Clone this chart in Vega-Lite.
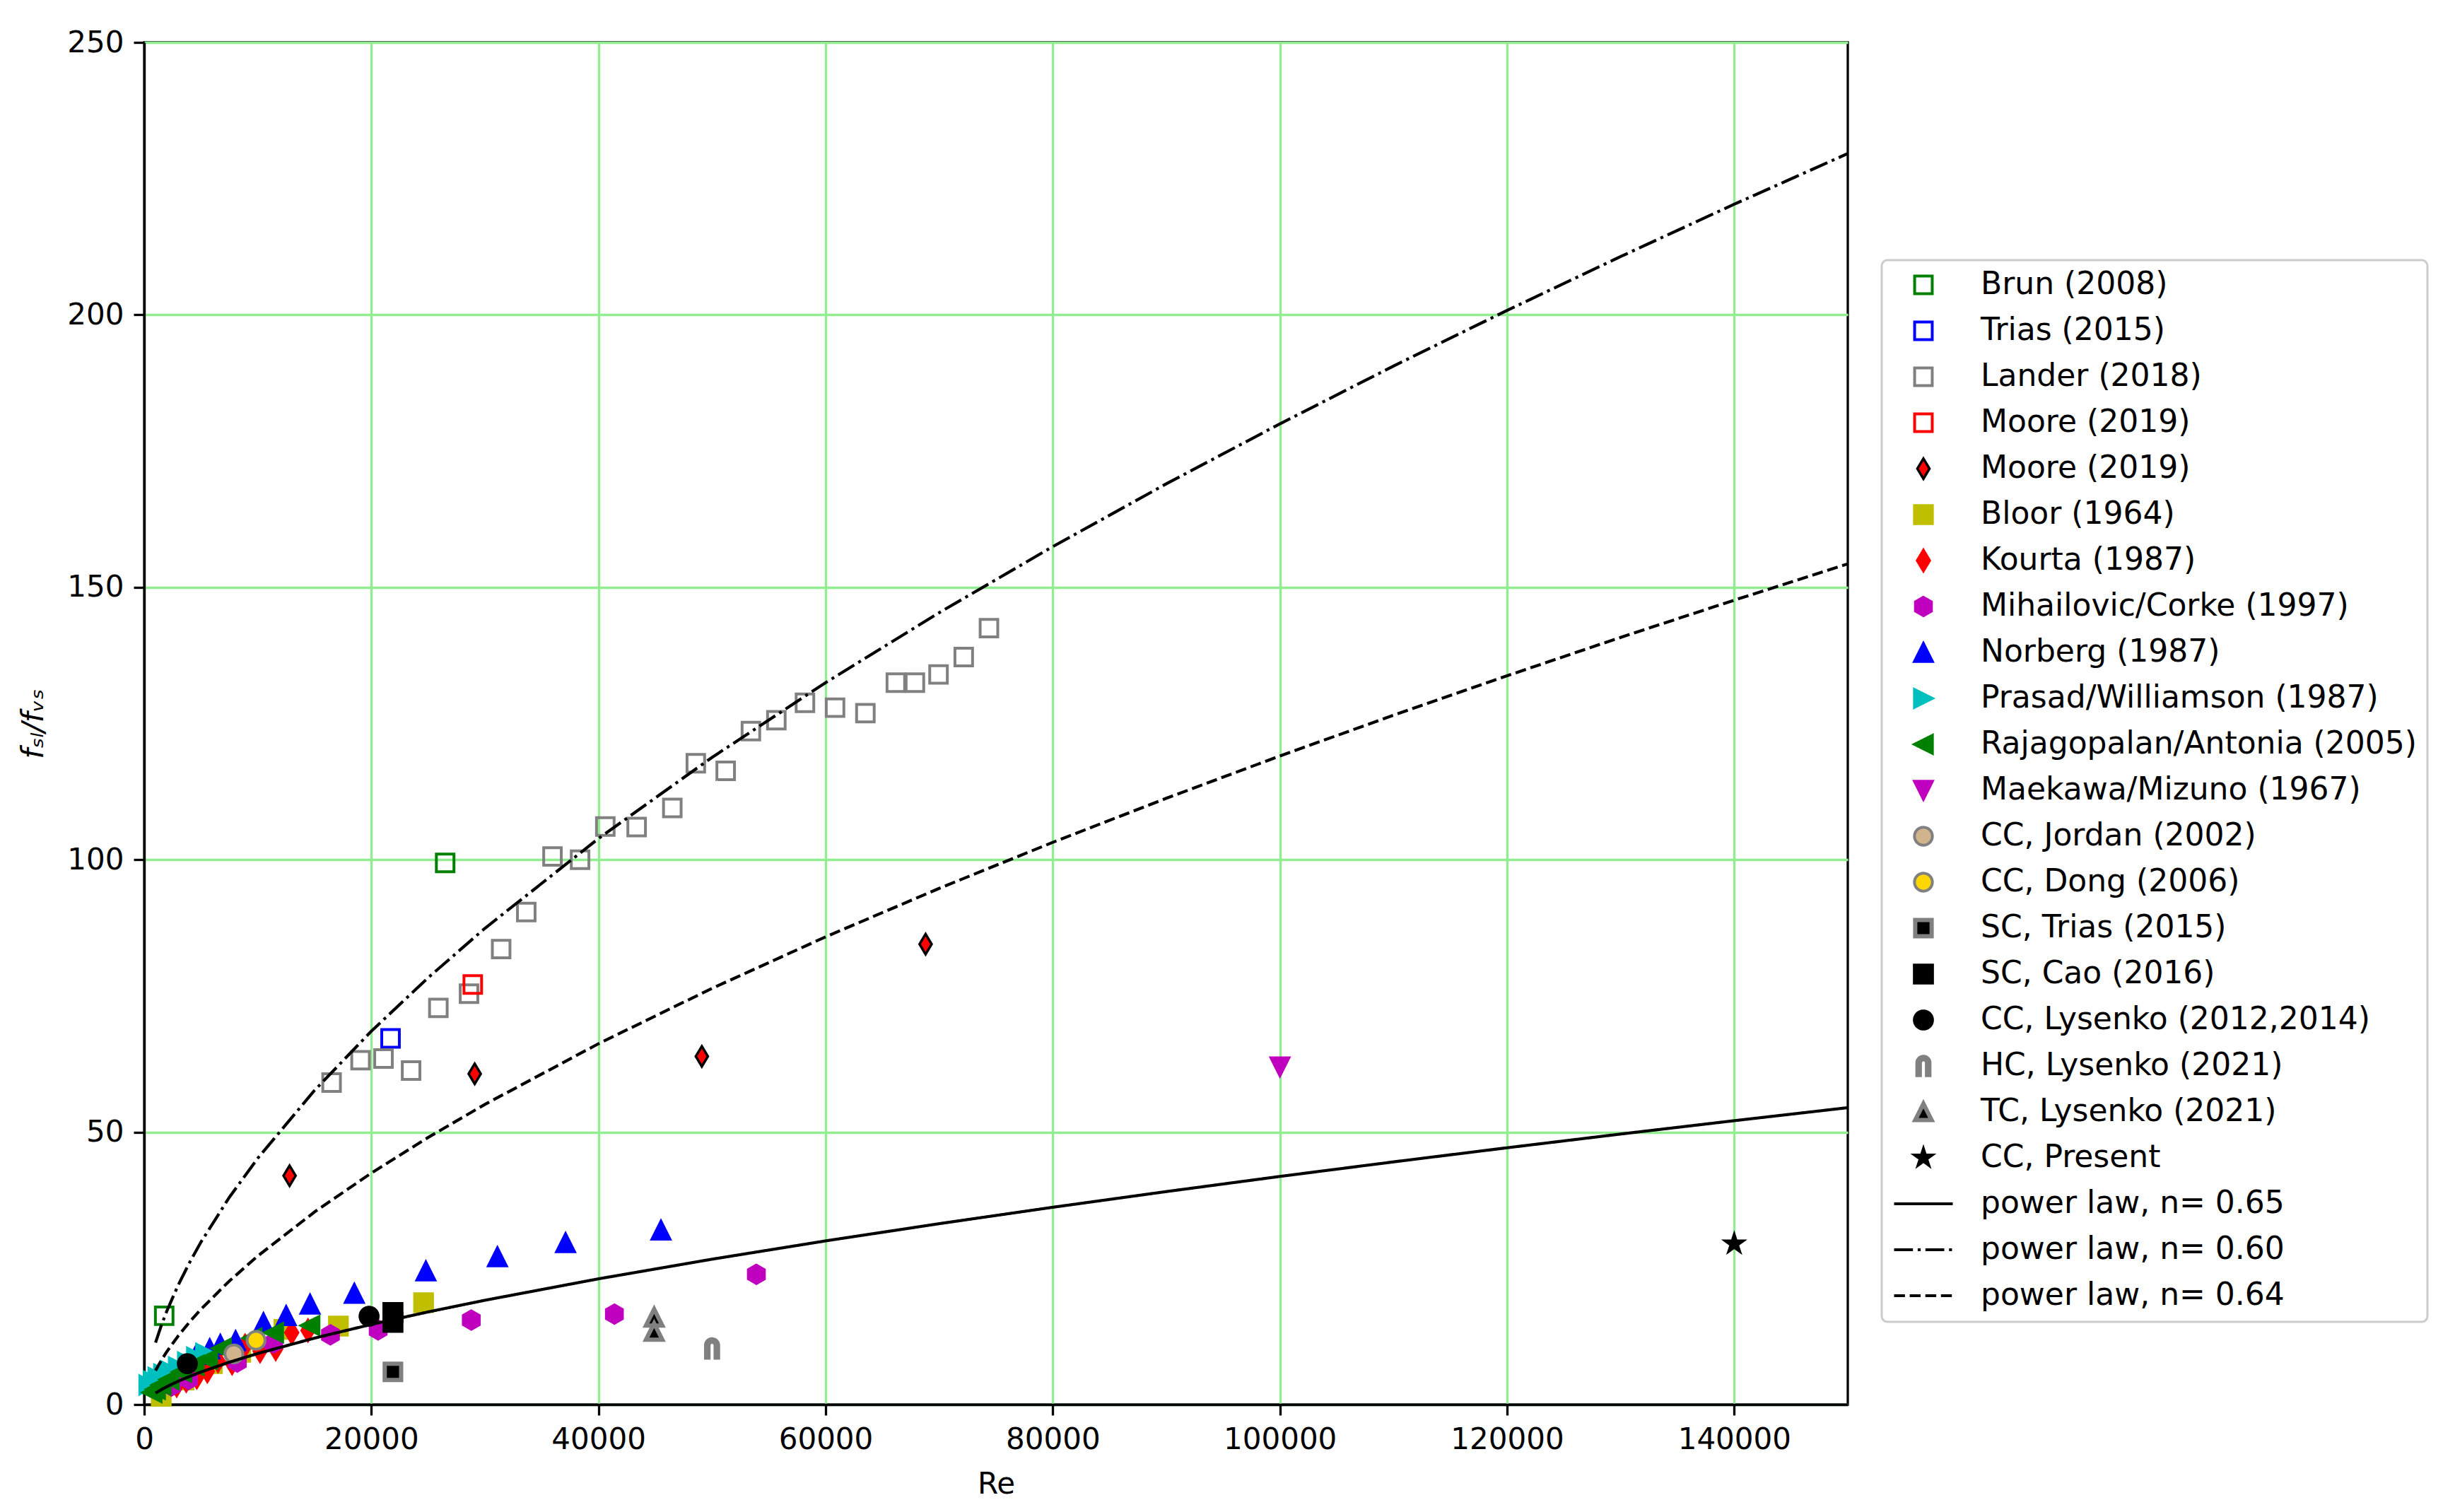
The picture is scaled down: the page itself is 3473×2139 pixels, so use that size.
{
  "$schema": "https://vega.github.io/schema/vega-lite/v6.json",
  "width": 2410,
  "height": 1927,
  "autosize": {"type": "none"},
  "padding": {"left": 204, "top": 60, "right": 859, "bottom": 152},
  "background": "white",
  "config": {
    "view": {"stroke": "black", "strokeWidth": 3.3},
    "axis": {
      "domainColor": "black", "domainWidth": 3.3,
      "tickColor": "black", "tickWidth": 3.3, "tickSize": 15,
      "labelFont": "DejaVu Sans", "labelFontSize": 42, "labelColor": "black", "labelPadding": 14,
      "titleFont": "DejaVu Sans", "titleFontSize": 42, "titleFontWeight": "normal", "titleColor": "black",
      "gridColor": "#90ee90", "gridWidth": 3.3, "gridOpacity": 1,
      "labelFlush": false, "labelOverlap": false
    },
    "legend": {
      "padding": 15, "strokeColor": "#cccccc", "strokeWidth": 3, "fillColor": "white", "cornerRadius": 8,
      "labelFont": "DejaVu Sans", "labelFontSize": 44, "labelColor": "black", "labelLimit": 0,
      "rowPadding": 21, "clipHeight": 40, "labelOffset": 37, "symbolLimit": 0, "symbolOpacity": 1
    }
  },
  "datasets": {
    "pts": [
      {"series": "Brun (2008)", "Re": 1760, "f": 16.3},
      {"series": "Brun (2008)", "Re": 26500, "f": 99.4},
      {"series": "Trias (2015)", "Re": 21690, "f": 67.2},
      {"series": "Lander (2018)", "Re": 16500, "f": 59.1},
      {"series": "Lander (2018)", "Re": 19050, "f": 63.2},
      {"series": "Lander (2018)", "Re": 21070, "f": 63.5},
      {"series": "Lander (2018)", "Re": 23500, "f": 61.3},
      {"series": "Lander (2018)", "Re": 25900, "f": 72.8},
      {"series": "Lander (2018)", "Re": 28600, "f": 75.4},
      {"series": "Lander (2018)", "Re": 31430, "f": 83.6},
      {"series": "Lander (2018)", "Re": 33640, "f": 90.4},
      {"series": "Lander (2018)", "Re": 35950, "f": 100.6},
      {"series": "Lander (2018)", "Re": 38380, "f": 100.0},
      {"series": "Lander (2018)", "Re": 40600, "f": 106.1},
      {"series": "Lander (2018)", "Re": 43360, "f": 106.0},
      {"series": "Lander (2018)", "Re": 46500, "f": 109.5},
      {"series": "Lander (2018)", "Re": 48570, "f": 117.7},
      {"series": "Lander (2018)", "Re": 51200, "f": 116.3},
      {"series": "Lander (2018)", "Re": 53420, "f": 123.6},
      {"series": "Lander (2018)", "Re": 55660, "f": 125.6},
      {"series": "Lander (2018)", "Re": 58180, "f": 128.8},
      {"series": "Lander (2018)", "Re": 60830, "f": 127.9},
      {"series": "Lander (2018)", "Re": 63500, "f": 126.9},
      {"series": "Lander (2018)", "Re": 66180, "f": 132.5},
      {"series": "Lander (2018)", "Re": 67860, "f": 132.5},
      {"series": "Lander (2018)", "Re": 69940, "f": 134.0},
      {"series": "Lander (2018)", "Re": 72160, "f": 137.2},
      {"series": "Lander (2018)", "Re": 74380, "f": 142.5},
      {"series": "Moore (2019)|sq", "Re": 28930, "f": 77.1},
      {"series": "Moore (2019)|d", "Re": 12800, "f": 42.0},
      {"series": "Moore (2019)|d", "Re": 29100, "f": 60.7},
      {"series": "Moore (2019)|d", "Re": 49100, "f": 63.9},
      {"series": "Moore (2019)|d", "Re": 68800, "f": 84.5},
      {"series": "Bloor (1964)", "Re": 1500, "f": 1.5},
      {"series": "Bloor (1964)", "Re": 3500, "f": 4.5},
      {"series": "Bloor (1964)", "Re": 6000, "f": 7.5},
      {"series": "Bloor (1964)", "Re": 8500, "f": 9.6},
      {"series": "Bloor (1964)", "Re": 12300, "f": 13.8},
      {"series": "Bloor (1964)", "Re": 17100, "f": 14.4},
      {"series": "Bloor (1964)", "Re": 24600, "f": 18.7},
      {"series": "Kourta (1987)", "Re": 2860, "f": 3.5},
      {"series": "Kourta (1987)", "Re": 3700, "f": 4.4},
      {"series": "Kourta (1987)", "Re": 4630, "f": 5.0},
      {"series": "Kourta (1987)", "Re": 5560, "f": 6.1},
      {"series": "Kourta (1987)", "Re": 6490, "f": 8.0},
      {"series": "Kourta (1987)", "Re": 7740, "f": 7.6},
      {"series": "Kourta (1987)", "Re": 8880, "f": 10.8},
      {"series": "Kourta (1987)", "Re": 10200, "f": 9.8},
      {"series": "Kourta (1987)", "Re": 11580, "f": 10.2},
      {"series": "Kourta (1987)", "Re": 12990, "f": 13.2},
      {"series": "Kourta (1987)", "Re": 14420, "f": 13.6},
      {"series": "Mihailovic/Corke (1997)", "Re": 2400, "f": 3.4},
      {"series": "Mihailovic/Corke (1997)", "Re": 3900, "f": 4.6},
      {"series": "Mihailovic/Corke (1997)", "Re": 8200, "f": 7.8},
      {"series": "Mihailovic/Corke (1997)", "Re": 11400, "f": 11.3},
      {"series": "Mihailovic/Corke (1997)", "Re": 16400, "f": 12.8},
      {"series": "Mihailovic/Corke (1997)", "Re": 20600, "f": 13.7},
      {"series": "Mihailovic/Corke (1997)", "Re": 28800, "f": 15.5},
      {"series": "Mihailovic/Corke (1997)", "Re": 41400, "f": 16.6},
      {"series": "Mihailovic/Corke (1997)", "Re": 53900, "f": 23.9},
      {"series": "Norberg (1987)", "Re": 4600, "f": 9.2},
      {"series": "Norberg (1987)", "Re": 5770, "f": 10.2},
      {"series": "Norberg (1987)", "Re": 6700, "f": 11.0},
      {"series": "Norberg (1987)", "Re": 8050, "f": 11.7},
      {"series": "Norberg (1987)", "Re": 10500, "f": 15.0},
      {"series": "Norberg (1987)", "Re": 12500, "f": 16.3},
      {"series": "Norberg (1987)", "Re": 14600, "f": 18.4},
      {"series": "Norberg (1987)", "Re": 18500, "f": 20.4},
      {"series": "Norberg (1987)", "Re": 24800, "f": 24.5},
      {"series": "Norberg (1987)", "Re": 31100, "f": 27.1},
      {"series": "Norberg (1987)", "Re": 37100, "f": 29.7},
      {"series": "Norberg (1987)", "Re": 45500, "f": 32.0},
      {"series": "Prasad/Williamson (1987)", "Re": 400, "f": 3.6},
      {"series": "Prasad/Williamson (1987)", "Re": 800, "f": 4.3},
      {"series": "Prasad/Williamson (1987)", "Re": 1200, "f": 5.0},
      {"series": "Prasad/Williamson (1987)", "Re": 1700, "f": 5.6},
      {"series": "Prasad/Williamson (1987)", "Re": 2300, "f": 6.2},
      {"series": "Prasad/Williamson (1987)", "Re": 3000, "f": 6.9},
      {"series": "Prasad/Williamson (1987)", "Re": 3800, "f": 7.8},
      {"series": "Prasad/Williamson (1987)", "Re": 4600, "f": 8.7},
      {"series": "Prasad/Williamson (1987)", "Re": 5400, "f": 9.4},
      {"series": "Rajagopalan/Antonia (2005)", "Re": 700, "f": 2.2},
      {"series": "Rajagopalan/Antonia (2005)", "Re": 1000, "f": 2.8},
      {"series": "Rajagopalan/Antonia (2005)", "Re": 1500, "f": 3.6},
      {"series": "Rajagopalan/Antonia (2005)", "Re": 2200, "f": 4.6},
      {"series": "Rajagopalan/Antonia (2005)", "Re": 3300, "f": 6.0},
      {"series": "Rajagopalan/Antonia (2005)", "Re": 4400, "f": 7.2},
      {"series": "Rajagopalan/Antonia (2005)", "Re": 5600, "f": 8.3},
      {"series": "Rajagopalan/Antonia (2005)", "Re": 6800, "f": 10.3},
      {"series": "Rajagopalan/Antonia (2005)", "Re": 9500, "f": 12.2},
      {"series": "Rajagopalan/Antonia (2005)", "Re": 11400, "f": 13.2},
      {"series": "Rajagopalan/Antonia (2005)", "Re": 14600, "f": 14.5},
      {"series": "Maekawa/Mizuno (1967)", "Re": 100000, "f": 62.0},
      {"series": "CC, Jordan (2002)", "Re": 7900, "f": 9.3},
      {"series": "CC, Dong (2006)", "Re": 9850, "f": 11.8},
      {"series": "SC, Trias (2015)", "Re": 21900, "f": 6.0},
      {"series": "SC, Cao (2016)", "Re": 21900, "f": 16.9},
      {"series": "SC, Cao (2016)", "Re": 21900, "f": 15.1},
      {"series": "CC, Lysenko (2012,2014)", "Re": 3800, "f": 7.5},
      {"series": "CC, Lysenko (2012,2014)", "Re": 19800, "f": 16.2},
      {"series": "HC, Lysenko (2021)", "Re": 50000, "f": 10.3},
      {"series": "TC, Lysenko (2021)", "Re": 44900, "f": 16.0},
      {"series": "TC, Lysenko (2021)", "Re": 44900, "f": 13.4},
      {"series": "CC, Present", "Re": 140000, "f": 29.5}
    ],
    "lines": [
      {"series": "power law, n= 0.65", "Re": 1000, "f": 2.098},
      {"series": "power law, n= 0.65", "Re": 1500, "f": 2.731},
      {"series": "power law, n= 0.65", "Re": 2000, "f": 3.292},
      {"series": "power law, n= 0.65", "Re": 3000, "f": 4.286},
      {"series": "power law, n= 0.65", "Re": 4000, "f": 5.166},
      {"series": "power law, n= 0.65", "Re": 5000, "f": 5.973},
      {"series": "power law, n= 0.65", "Re": 7500, "f": 7.775},
      {"series": "power law, n= 0.65", "Re": 10000, "f": 9.372},
      {"series": "power law, n= 0.65", "Re": 15000, "f": 12.199},
      {"series": "power law, n= 0.65", "Re": 20000, "f": 14.708},
      {"series": "power law, n= 0.65", "Re": 25000, "f": 17.003},
      {"series": "power law, n= 0.65", "Re": 30000, "f": 19.143},
      {"series": "power law, n= 0.65", "Re": 40000, "f": 23.077},
      {"series": "power law, n= 0.65", "Re": 50000, "f": 26.68},
      {"series": "power law, n= 0.65", "Re": 60000, "f": 30.04},
      {"series": "power law, n= 0.65", "Re": 70000, "f": 33.2},
      {"series": "power law, n= 0.65", "Re": 80000, "f": 36.21},
      {"series": "power law, n= 0.65", "Re": 90000, "f": 39.09},
      {"series": "power law, n= 0.65", "Re": 100000, "f": 41.87},
      {"series": "power law, n= 0.65", "Re": 110000, "f": 44.54},
      {"series": "power law, n= 0.65", "Re": 120000, "f": 47.13},
      {"series": "power law, n= 0.65", "Re": 130000, "f": 49.65},
      {"series": "power law, n= 0.65", "Re": 140000, "f": 52.1},
      {"series": "power law, n= 0.65", "Re": 150000, "f": 54.49},
      {"series": "power law, n= 0.60", "Re": 1000, "f": 11.36},
      {"series": "power law, n= 0.60", "Re": 1500, "f": 14.49},
      {"series": "power law, n= 0.60", "Re": 2000, "f": 17.21},
      {"series": "power law, n= 0.60", "Re": 3000, "f": 21.95},
      {"series": "power law, n= 0.60", "Re": 4000, "f": 26.09},
      {"series": "power law, n= 0.60", "Re": 5000, "f": 29.83},
      {"series": "power law, n= 0.60", "Re": 7500, "f": 38.05},
      {"series": "power law, n= 0.60", "Re": 10000, "f": 45.21},
      {"series": "power law, n= 0.60", "Re": 15000, "f": 57.67},
      {"series": "power law, n= 0.60", "Re": 20000, "f": 68.53},
      {"series": "power law, n= 0.60", "Re": 25000, "f": 78.34},
      {"series": "power law, n= 0.60", "Re": 30000, "f": 87.41},
      {"series": "power law, n= 0.60", "Re": 40000, "f": 103.89},
      {"series": "power law, n= 0.60", "Re": 50000, "f": 118.78},
      {"series": "power law, n= 0.60", "Re": 60000, "f": 132.5},
      {"series": "power law, n= 0.60", "Re": 70000, "f": 145.34},
      {"series": "power law, n= 0.60", "Re": 80000, "f": 157.46},
      {"series": "power law, n= 0.60", "Re": 90000, "f": 168.99},
      {"series": "power law, n= 0.60", "Re": 100000, "f": 180.0},
      {"series": "power law, n= 0.60", "Re": 110000, "f": 190.6},
      {"series": "power law, n= 0.60", "Re": 120000, "f": 200.81},
      {"series": "power law, n= 0.60", "Re": 130000, "f": 210.7},
      {"series": "power law, n= 0.60", "Re": 140000, "f": 220.3},
      {"series": "power law, n= 0.60", "Re": 150000, "f": 229.6},
      {"series": "power law, n= 0.64", "Re": 1000, "f": 6.247},
      {"series": "power law, n= 0.64", "Re": 1500, "f": 8.097},
      {"series": "power law, n= 0.64", "Re": 2000, "f": 9.735},
      {"series": "power law, n= 0.64", "Re": 3000, "f": 12.62},
      {"series": "power law, n= 0.64", "Re": 4000, "f": 15.17},
      {"series": "power law, n= 0.64", "Re": 5000, "f": 17.5},
      {"series": "power law, n= 0.64", "Re": 7500, "f": 22.68},
      {"series": "power law, n= 0.64", "Re": 10000, "f": 27.27},
      {"series": "power law, n= 0.64", "Re": 15000, "f": 35.35},
      {"series": "power law, n= 0.64", "Re": 20000, "f": 42.49},
      {"series": "power law, n= 0.64", "Re": 25000, "f": 49.02},
      {"series": "power law, n= 0.64", "Re": 30000, "f": 55.09},
      {"series": "power law, n= 0.64", "Re": 40000, "f": 66.23},
      {"series": "power law, n= 0.64", "Re": 50000, "f": 76.39},
      {"series": "power law, n= 0.64", "Re": 60000, "f": 85.84},
      {"series": "power law, n= 0.64", "Re": 70000, "f": 94.74},
      {"series": "power law, n= 0.64", "Re": 80000, "f": 103.19},
      {"series": "power law, n= 0.64", "Re": 90000, "f": 111.27},
      {"series": "power law, n= 0.64", "Re": 100000, "f": 119.04},
      {"series": "power law, n= 0.64", "Re": 110000, "f": 126.52},
      {"series": "power law, n= 0.64", "Re": 120000, "f": 133.76},
      {"series": "power law, n= 0.64", "Re": 130000, "f": 140.8},
      {"series": "power law, n= 0.64", "Re": 140000, "f": 147.63},
      {"series": "power law, n= 0.64", "Re": 150000, "f": 154.3}
    ]
  },
  "encoding": {
    "x": {
      "field": "Re", "type": "quantitative",
      "scale": {"domain": [0, 150000], "nice": false, "zero": false},
      "axis": {"values": [0, 20000, 40000, 60000, 80000, 100000, 120000, 140000], "format": "d", "title": "Re", "titlePadding": 22}
    },
    "y": {
      "field": "f", "type": "quantitative",
      "scale": {"domain": [0, 250], "nice": false, "zero": false},
      "axis": {"values": [0, 50, 100, 150, 200, 250], "format": "d", "title": "fₛₗ/fᵥₛ", "titleFontStyle": "italic", "titlePadding": 25}
    }
  },
  "layer": [
    {
      "data": {"name": "pts"},
      "mark": {"type": "point", "opacity": 1, "filled": false},
      "encoding": {
        "shape": {
          "field": "series", "type": "nominal",
          "scale": {
            "domain": ["Brun (2008)", "Trias (2015)", "Lander (2018)", "Moore (2019)|sq", "Moore (2019)|d", "Bloor (1964)", "Kourta (1987)", "Mihailovic/Corke (1997)", "Norberg (1987)", "Prasad/Williamson (1987)", "Rajagopalan/Antonia (2005)", "Maekawa/Mizuno (1967)", "CC, Jordan (2002)", "CC, Dong (2006)", "SC, Trias (2015)", "SC, Cao (2016)", "CC, Lysenko (2012,2014)", "HC, Lysenko (2021)", "TC, Lysenko (2021)", "CC, Present", "power law, n= 0.65", "power law, n= 0.60", "power law, n= 0.64"],
            "range": ["square", "square", "square", "square", "M0,-1L0.6,0L0,1L-0.6,0Z", "square", "M0,-1L0.6,0L0,1L-0.6,0Z", "M0,-1L0.866,-0.5L0.866,0.5L0,1L-0.866,0.5L-0.866,-0.5Z", "M0,-1L1,1L-1,1Z", "M1,0L-1,-1L-1,1Z", "M-1,0L1,-1L1,1Z", "M0,1L-1,-1L1,-1Z", "circle", "circle", "square", "square", "circle", "M-0.68,1L-0.68,-0.32A0.68,0.68 0 0 1 0.68,-0.32L0.68,1L0.3,1L0.3,-0.32A0.3,0.3 0 0 0 -0.3,-0.32L-0.3,1Z", "M0,-1L1,1L-1,1Z", "M0,-1L0.224,-0.308L0.951,-0.309L0.362,0.118L0.588,0.809L0,0.381L-0.588,0.809L-0.362,0.118L-0.951,-0.309L-0.224,-0.308Z", "stroke", "stroke", "stroke"]
          },
          "legend": {"title": null, "orient": "none", "legendX": 2458, "legendY": 308, "labelExpr": "split(datum.label, '|')[0]"}
        },
        "fill": {
          "field": "series", "type": "nominal",
          "scale": {
            "domain": ["Brun (2008)", "Trias (2015)", "Lander (2018)", "Moore (2019)|sq", "Moore (2019)|d", "Bloor (1964)", "Kourta (1987)", "Mihailovic/Corke (1997)", "Norberg (1987)", "Prasad/Williamson (1987)", "Rajagopalan/Antonia (2005)", "Maekawa/Mizuno (1967)", "CC, Jordan (2002)", "CC, Dong (2006)", "SC, Trias (2015)", "SC, Cao (2016)", "CC, Lysenko (2012,2014)", "HC, Lysenko (2021)", "TC, Lysenko (2021)", "CC, Present", "power law, n= 0.65", "power law, n= 0.60", "power law, n= 0.64"],
            "range": ["transparent", "transparent", "transparent", "transparent", "#ff0000", "#bfbf00", "#ff0000", "#bf00bf", "#0000ff", "#00bfbf", "#008000", "#bf00bf", "#d2b48c", "#ffd700", "#000000", "#000000", "#000000", "#808080", "#000000", "#000000", "transparent", "transparent", "transparent"]
          },
          "legend": {"title": null, "orient": "none", "legendX": 2458, "legendY": 308, "labelExpr": "split(datum.label, '|')[0]"}
        },
        "stroke": {
          "field": "series", "type": "nominal",
          "scale": {
            "domain": ["Brun (2008)", "Trias (2015)", "Lander (2018)", "Moore (2019)|sq", "Moore (2019)|d", "Bloor (1964)", "Kourta (1987)", "Mihailovic/Corke (1997)", "Norberg (1987)", "Prasad/Williamson (1987)", "Rajagopalan/Antonia (2005)", "Maekawa/Mizuno (1967)", "CC, Jordan (2002)", "CC, Dong (2006)", "SC, Trias (2015)", "SC, Cao (2016)", "CC, Lysenko (2012,2014)", "HC, Lysenko (2021)", "TC, Lysenko (2021)", "CC, Present", "power law, n= 0.65", "power law, n= 0.60", "power law, n= 0.64"],
            "range": ["#008000", "#0000ff", "#808080", "#ff0000", "#000000", "#bfbf00", "#ff0000", "#bf00bf", "#0000ff", "#00bfbf", "#008000", "#bf00bf", "#808080", "#808080", "#808080", "#000000", "#000000", "#808080", "#808080", "#000000", "#000000", "#000000", "#000000"]
          },
          "legend": {"title": null, "orient": "none", "legendX": 2458, "legendY": 308, "labelExpr": "split(datum.label, '|')[0]"}
        },
        "size": {
          "field": "series", "type": "nominal",
          "scale": {
            "type": "ordinal",
            "domain": ["Brun (2008)", "Trias (2015)", "Lander (2018)", "Moore (2019)|sq", "Moore (2019)|d", "Bloor (1964)", "Kourta (1987)", "Mihailovic/Corke (1997)", "Norberg (1987)", "Prasad/Williamson (1987)", "Rajagopalan/Antonia (2005)", "Maekawa/Mizuno (1967)", "CC, Jordan (2002)", "CC, Dong (2006)", "SC, Trias (2015)", "SC, Cao (2016)", "CC, Lysenko (2012,2014)", "HC, Lysenko (2021)", "TC, Lysenko (2021)", "CC, Present", "power law, n= 0.65", "power law, n= 0.60", "power law, n= 0.64"],
            "range": [620, 620, 620, 620, 820, 640, 840, 680, 640, 640, 640, 640, 640, 640, 540, 660, 660, 760, 540, 1050, 6889, 6889, 6889]
          },
          "legend": {"title": null, "orient": "none", "legendX": 2458, "legendY": 308, "labelExpr": "split(datum.label, '|')[0]"}
        },
        "strokeWidth": {
          "field": "series", "type": "nominal",
          "scale": {
            "type": "ordinal",
            "domain": ["Brun (2008)", "Trias (2015)", "Lander (2018)", "Moore (2019)|sq", "Moore (2019)|d", "Bloor (1964)", "Kourta (1987)", "Mihailovic/Corke (1997)", "Norberg (1987)", "Prasad/Williamson (1987)", "Rajagopalan/Antonia (2005)", "Maekawa/Mizuno (1967)", "CC, Jordan (2002)", "CC, Dong (2006)", "SC, Trias (2015)", "SC, Cao (2016)", "CC, Lysenko (2012,2014)", "HC, Lysenko (2021)", "TC, Lysenko (2021)", "CC, Present", "power law, n= 0.65", "power law, n= 0.60", "power law, n= 0.64"],
            "range": [4, 4, 4, 4, 3.5, 4, 4, 4, 4, 4, 4, 4, 4, 4, 6, 4, 4, 4, 6, 2, 4.2, 4.2, 4.2]
          },
          "legend": {"title": null, "orient": "none", "legendX": 2458, "legendY": 308, "labelExpr": "split(datum.label, '|')[0]"}
        },
        "strokeDash": {
          "field": "series", "type": "nominal",
          "scale": {
            "domain": ["Brun (2008)", "Trias (2015)", "Lander (2018)", "Moore (2019)|sq", "Moore (2019)|d", "Bloor (1964)", "Kourta (1987)", "Mihailovic/Corke (1997)", "Norberg (1987)", "Prasad/Williamson (1987)", "Rajagopalan/Antonia (2005)", "Maekawa/Mizuno (1967)", "CC, Jordan (2002)", "CC, Dong (2006)", "SC, Trias (2015)", "SC, Cao (2016)", "CC, Lysenko (2012,2014)", "HC, Lysenko (2021)", "TC, Lysenko (2021)", "CC, Present", "power law, n= 0.65", "power law, n= 0.60", "power law, n= 0.64"],
            "range": [[1, 0], [1, 0], [1, 0], [1, 0], [1, 0], [1, 0], [1, 0], [1, 0], [1, 0], [1, 0], [1, 0], [1, 0], [1, 0], [1, 0], [1, 0], [1, 0], [1, 0], [1, 0], [1, 0], [1, 0], [1, 0], [26.7, 6.7, 4.2, 6.7], [15.4, 6.7]]
          },
          "legend": {"title": null, "orient": "none", "legendX": 2458, "legendY": 308, "labelExpr": "split(datum.label, '|')[0]"}
        }
      }
    },
    {
      "data": {"name": "lines"},
      "mark": {"type": "line", "clip": true},
      "encoding": {
        "stroke": {
          "field": "series", "type": "nominal",
          "scale": {
            "domain": ["Brun (2008)", "Trias (2015)", "Lander (2018)", "Moore (2019)|sq", "Moore (2019)|d", "Bloor (1964)", "Kourta (1987)", "Mihailovic/Corke (1997)", "Norberg (1987)", "Prasad/Williamson (1987)", "Rajagopalan/Antonia (2005)", "Maekawa/Mizuno (1967)", "CC, Jordan (2002)", "CC, Dong (2006)", "SC, Trias (2015)", "SC, Cao (2016)", "CC, Lysenko (2012,2014)", "HC, Lysenko (2021)", "TC, Lysenko (2021)", "CC, Present", "power law, n= 0.65", "power law, n= 0.60", "power law, n= 0.64"],
            "range": ["#008000", "#0000ff", "#808080", "#ff0000", "#000000", "#bfbf00", "#ff0000", "#bf00bf", "#0000ff", "#00bfbf", "#008000", "#bf00bf", "#808080", "#808080", "#808080", "#000000", "#000000", "#808080", "#808080", "#000000", "#000000", "#000000", "#000000"]
          },
          "legend": {"title": null, "orient": "none", "legendX": 2458, "legendY": 308, "labelExpr": "split(datum.label, '|')[0]"}
        },
        "strokeWidth": {
          "field": "series", "type": "nominal",
          "scale": {
            "type": "ordinal",
            "domain": ["Brun (2008)", "Trias (2015)", "Lander (2018)", "Moore (2019)|sq", "Moore (2019)|d", "Bloor (1964)", "Kourta (1987)", "Mihailovic/Corke (1997)", "Norberg (1987)", "Prasad/Williamson (1987)", "Rajagopalan/Antonia (2005)", "Maekawa/Mizuno (1967)", "CC, Jordan (2002)", "CC, Dong (2006)", "SC, Trias (2015)", "SC, Cao (2016)", "CC, Lysenko (2012,2014)", "HC, Lysenko (2021)", "TC, Lysenko (2021)", "CC, Present", "power law, n= 0.65", "power law, n= 0.60", "power law, n= 0.64"],
            "range": [4, 4, 4, 4, 3.5, 4, 4, 4, 4, 4, 4, 4, 4, 4, 6, 4, 4, 4, 6, 2, 4.2, 4.2, 4.2]
          },
          "legend": {"title": null, "orient": "none", "legendX": 2458, "legendY": 308, "labelExpr": "split(datum.label, '|')[0]"}
        },
        "strokeDash": {
          "field": "series", "type": "nominal",
          "scale": {
            "domain": ["Brun (2008)", "Trias (2015)", "Lander (2018)", "Moore (2019)|sq", "Moore (2019)|d", "Bloor (1964)", "Kourta (1987)", "Mihailovic/Corke (1997)", "Norberg (1987)", "Prasad/Williamson (1987)", "Rajagopalan/Antonia (2005)", "Maekawa/Mizuno (1967)", "CC, Jordan (2002)", "CC, Dong (2006)", "SC, Trias (2015)", "SC, Cao (2016)", "CC, Lysenko (2012,2014)", "HC, Lysenko (2021)", "TC, Lysenko (2021)", "CC, Present", "power law, n= 0.65", "power law, n= 0.60", "power law, n= 0.64"],
            "range": [[1, 0], [1, 0], [1, 0], [1, 0], [1, 0], [1, 0], [1, 0], [1, 0], [1, 0], [1, 0], [1, 0], [1, 0], [1, 0], [1, 0], [1, 0], [1, 0], [1, 0], [1, 0], [1, 0], [1, 0], [1, 0], [26.7, 6.7, 4.2, 6.7], [15.4, 6.7]]
          },
          "legend": {"title": null, "orient": "none", "legendX": 2458, "legendY": 308, "labelExpr": "split(datum.label, '|')[0]"}
        }
      }
    }
  ]
}
